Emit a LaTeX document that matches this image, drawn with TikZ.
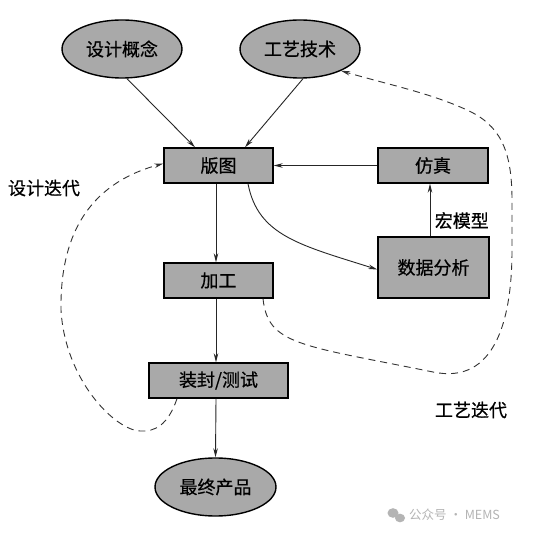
\documentclass[tikz,border=0pt]{standalone}
\usepackage{fontspec}
\newfontfamily\cjk[FakeBold=0.6]{Noto Sans CJK SC}
\newfontfamily\cjkwm{Noto Sans CJK SC}
\usetikzlibrary{shapes.geometric,arrows.meta}
\definecolor{boxgray}{HTML}{A9A9A9}
\definecolor{wm}{HTML}{B4B4B4}
\begin{document}
\begin{tikzpicture}[x=1pt,y=-1pt,
  every node/.style={font=\cjk\fontsize{18}{21}\selectfont},
  stepbox/.style={draw=black,line width=1.4pt,fill=boxgray,inner sep=0pt,minimum height=35pt},
  oval/.style={ellipse,draw=black,line width=1.4pt,fill=boxgray,inner sep=0pt,minimum width=120pt,minimum height=58pt},
  arr/.style={draw=black!85,line width=0.9pt,-{Stealth[length=9pt,width=4.5pt]}},
  dsh/.style={draw=black!80,line width=0.9pt,dash pattern=on 7pt off 5pt,-{Stealth[length=9pt,width=4.5pt]}},
  plain/.style={font=\cjk\fontsize{18}{21}\selectfont}]
\useasboundingbox (0,0) rectangle (552,537);
\fill[white] (0,0) rectangle (552,537);

\node[oval] (c1) at (122,49) {设计概念};
\node[oval] (c2) at (300,49) {工艺技术};
\node[stepbox,minimum width=109pt] (layout) at (218.5,165.5) {版图};
\node[stepbox,minimum width=110pt] (sim) at (433,165.5) {仿真};
\node[stepbox,minimum width=111pt,minimum height=61pt] (data) at (433.5,267.5) {数据分析};
\node[stepbox,minimum width=109pt] (fab) at (218.5,280.5) {加工};
\node[stepbox,minimum width=139pt] (pkg) at (218.5,380.5) {装封/测试};
\node[oval,minimum width=121pt] (prod) at (215.5,487) {最终产品};

\node[plain] (l1) at (44,188) {设计迭代};
\node[plain] (l2) at (471,410) {工艺迭代};

% solid arrows
\draw[arr] ([xshift=5pt]c1.south) -- ([xshift=-23.5pt]layout.north);
\draw[arr] ([xshift=3pt]c2.south) -- ([xshift=26.5pt]layout.north);
\draw[arr] (sim.west) -- (layout.east);
\draw[arr] ([xshift=-3.5pt]data.north) -- node[right=1pt,pos=0.3,plain] (macro) {宏模型} ([xshift=-3pt]sim.south);
\draw[arr] ([xshift=-2.5pt]layout.south) -- ([xshift=-2.5pt]fab.north);
\draw[arr] ([xshift=-2.5pt]fab.south) -- ([xshift=-2.5pt]pkg.north);
\draw[arr] ([xshift=-2.5pt]pkg.south) -- (prod.north);
\draw[arr] ([xshift=29.5pt]layout.south) .. controls +(10,52) and (300,245) .. ([yshift=-2pt]data.west);

% dashed iteration loops
\coordinate (d0) at ([xshift=-41.5pt]pkg.south);
\draw[dsh] (d0) .. controls (168,425) and (155,432) .. (140,431)
  .. controls (115,430) and (65,380) .. (61,310)
  .. controls (60,240) and (85,185) .. ([yshift=2pt]layout.west);
\coordinate (p0) at ([xshift=44.5pt]fab.south);
\draw[dsh] (p0) .. controls (268,345) and (300,345) .. (433,372)
  .. controls (495,385) and (512,320) .. (512,250)
  -- (512,200) .. controls (512,150) and (500,125) .. (467,110)
  .. controls (430,93) and (390,85) .. (c2.-28);

% watermark
\fill[wm] (393,513) ellipse (5.5pt and 4.8pt);
\fill[wm] (400,518) ellipse (5pt and 4.3pt);
\node[font=\cjkwm\fontsize{12.5}{14}\selectfont,text=wm,anchor=west,inner sep=0pt] (wmk) at (409,515) {公众号 · MEMS};
\end{tikzpicture}
\end{document}
